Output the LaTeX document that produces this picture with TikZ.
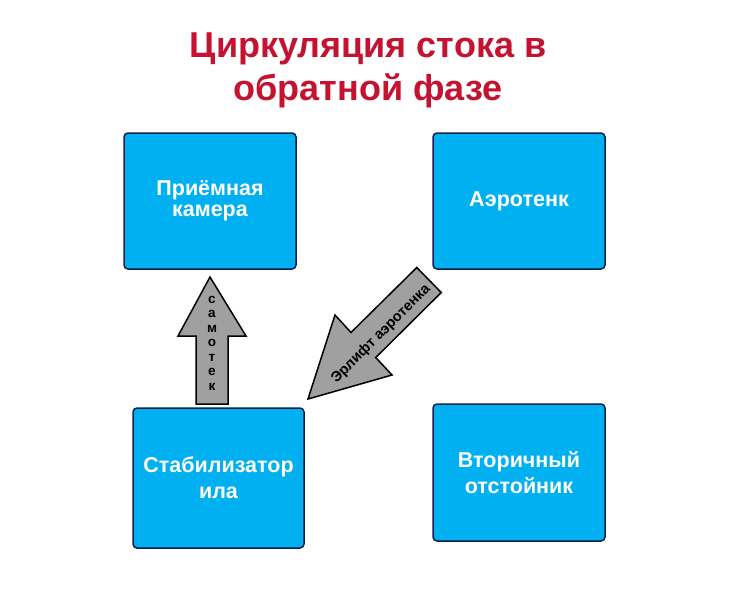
\documentclass[tikz,border=0pt]{standalone}
\usepackage{fontspec}
\setmainfont{Liberation Sans}
\begin{document}
\begin{tikzpicture}[x=1pt,y=-1pt,
  box/.style={draw=boxline,fill=boxfill,line width=1.5pt,rounded corners=4pt,text=white,font=\bfseries\fontsize{21.5}{26}\selectfont,align=center,inner sep=0pt},
  arr/.style={draw=black,fill=arrgray,line width=1.5pt,line join=miter},
  ttl/.style={text=titlered,font=\bfseries\fontsize{36}{43}\selectfont,align=center}]
\definecolor{boxfill}{RGB}{0,176,240}
\definecolor{boxline}{RGB}{10,30,80}
\definecolor{arrgray}{RGB}{160,160,160}
\definecolor{titlered}{RGB}{196,18,48}
\useasboundingbox (0,0) rectangle (736,589);
\node[ttl] (title) at (368,70) {Циркуляция стока в\\обратной фазе};
\node[box,minimum width=172pt,minimum height=136pt] (b1) at (210,201) {\raisebox{-4pt}{\shortstack{Приёмная\\[2pt]камера}}};
\node[box,minimum width=172pt,minimum height=136pt] (b2) at (519,201) {Аэротенк};
\node[box,minimum width=171pt,minimum height=140pt] (b3) at (218.5,478) {Стабилизатор\\ила};
\node[box,minimum width=172pt,minimum height=137pt] (b4) at (519,472.5) {Вторичный\\отстойник};
\draw[arr] (210,277) -- (246,336) -- (228,336) -- (228,404) -- (196,404) -- (196,336) -- (178,336) -- cycle;
\node[font=\bfseries\fontsize{13.5}{14.5}\selectfont,align=center] (t1) at (212,343) {с\\а\\м\\о\\т\\е\\к};
\draw[arr] (308,399) -- (335,315) -- (351,332.5) -- (416.75,267.5) -- (441.25,292.5) -- (375.75,357.5) -- (392,375) -- cycle;
\node[font=\bfseries\fontsize{14.5}{16}\selectfont,rotate=45] (t2) at (381,334) {Эрлифт аэротенка};
\end{tikzpicture}
\end{document}
